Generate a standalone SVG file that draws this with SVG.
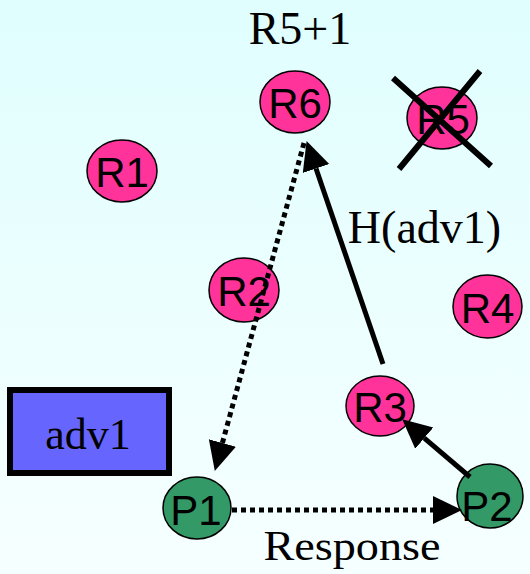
<svg xmlns="http://www.w3.org/2000/svg" width="530" height="574" viewBox="0 0 530 574">
<defs>
<linearGradient id="bg" x1="0" y1="0" x2="0" y2="1">
<stop offset="0" stop-color="#E0FEFE"/>
<stop offset="1" stop-color="#F6FFFF"/>
</linearGradient>
<marker id="ah" markerUnits="userSpaceOnUse" markerWidth="31" markerHeight="30" refX="0" refY="14" orient="auto" viewBox="0 0 31 30">
<path d="M0,0 L29,14 L0,28 z" fill="#000"/>
</marker>
</defs>
<style>
.r{fill:#FF3399;stroke:#000;stroke-width:1.5}
.p{fill:#339966;stroke:#000;stroke-width:1.5}
.lb{font-family:"Liberation Sans",Arial,sans-serif;font-size:42px;fill:#000;text-anchor:middle}
.sf{font-family:"Liberation Serif","Times New Roman",serif;fill:#000;text-anchor:middle}
.solid{stroke:#000;stroke-width:5;fill:none}
.dot{stroke:#000;stroke-width:5;fill:none;stroke-dasharray:5 4}
</style>
<rect width="530" height="574" fill="url(#bg)"/>
<text class="sf" x="300" y="44" font-size="46">R5+1</text>
<text class="sf" x="424.5" y="243" font-size="46">H(adv1)</text>
<text class="sf" x="352" y="560" font-size="43" textLength="177" lengthAdjust="spacingAndGlyphs">Response</text>
<g id="R1"><ellipse class="r" cx="122" cy="171" rx="35" ry="31"/><text class="lb" x="122" y="187">R1</text></g>
<g id="R6"><ellipse class="r" cx="295" cy="102" rx="35" ry="31"/><text class="lb" x="295" y="118">R6</text></g>
<g id="R5"><ellipse class="r" cx="442" cy="118" rx="35" ry="31"/><text class="lb" x="443" y="134">R5</text>
<path d="M393,78 L491,166 M480,71 L399,169" stroke="#000" stroke-width="6"/></g>
<g id="R2"><ellipse class="r" cx="244" cy="290" rx="35" ry="32"/><text class="lb" x="244" y="306">R2</text></g>
<g id="R4"><ellipse class="r" cx="487.5" cy="306.5" rx="34.5" ry="31.5"/><text class="lb" x="487.5" y="323">R4</text></g>
<g id="R3"><ellipse class="r" cx="380" cy="406" rx="34" ry="30"/><text class="lb" x="380" y="422">R3</text></g>
<g id="adv1"><rect x="10" y="390" width="159" height="83" fill="#6666FF" stroke="#000" stroke-width="6"/><text class="sf" x="88" y="449" font-size="44">adv1</text></g>
<g id="P1"><ellipse class="p" cx="197" cy="508" rx="34" ry="31"/><text class="lb" x="196" y="525">P1</text></g>
<g id="P2"><ellipse class="p" cx="490" cy="496" rx="33" ry="32"/><text class="lb" x="487" y="521">P2</text></g>
<g id="connectors">
<line class="solid" x1="383" y1="364" x2="316" y2="168.5" marker-end="url(#ah)"/>
<line class="dot" x1="304" y1="143" x2="222.4" y2="443" marker-end="url(#ah)"/>
<line class="dot" x1="232" y1="510" x2="433" y2="510" marker-end="url(#ah)"/>
<line class="solid" x1="470" y1="477" x2="424.3" y2="438.1" marker-end="url(#ah)"/>
</g>
</svg>
